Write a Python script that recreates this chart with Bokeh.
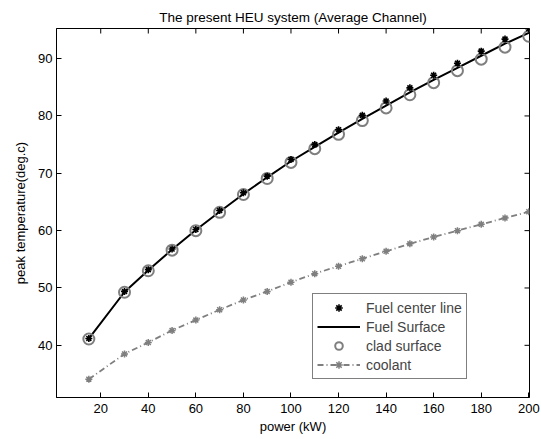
import math
from bokeh.plotting import figure
from bokeh.models import Range1d, FixedTicker, Legend, LegendItem, ColumnDataSource
from bokeh.embed import file_html
from bokeh.resources import INLINE

power = [15, 30, 40, 50, 60, 70, 80, 90, 100, 110, 120, 130, 140, 150, 160, 170, 180, 190, 200]
fuel_center = [41.2, 49.4, 53.2, 56.8, 60.2, 63.5, 66.6, 69.5, 72.4, 75.0, 77.6, 80.1, 82.6, 84.9, 87.1, 89.2, 91.3, 93.4, 95.2]
fuel_surface = [41.15, 49.3, 53.1, 56.7, 60.1, 63.3, 66.4, 69.3, 72.1, 74.6, 77.1, 79.5, 81.8, 84.1, 86.3, 88.4, 90.5, 92.6, 94.5]
clad_surface = [41.1, 49.25, 53.0, 56.6, 60.0, 63.2, 66.3, 69.1, 71.9, 74.3, 76.8, 79.2, 81.4, 83.7, 85.8, 87.9, 89.9, 92.0, 93.9]
coolant = [34.1, 38.5, 40.5, 42.6, 44.4, 46.2, 47.9, 49.4, 51.0, 52.5, 53.8, 55.1, 56.4, 57.7, 58.9, 60.0, 61.1, 62.2, 63.3]

x_ticks = [20, 40, 60, 80, 100, 120, 140, 160, 180, 200]
y_ticks = [40, 50, 60, 70, 80, 90]
x_lim = (1.4, 200.3)
y_lim = (30.9, 95.25)

FONT = "Liberation Sans"
FS = "13px"

src = ColumnDataSource(dict(power=power, fc=fuel_center, fs=fuel_surface, cs=clad_surface, co=coolant))

p = figure(width=541, height=439, output_backend="svg", toolbar_location=None,
           x_range=Range1d(*x_lim), y_range=Range1d(*y_lim),
           min_border_left=56, min_border_right=12, min_border_top=28, min_border_bottom=42,
           title="The present HEU system (Average Channel)")
p.title.text_font = FONT
p.title.text_font_size = "13.5px"
p.title.text_font_style = "normal"
p.title.text_color = "black"
p.title.align = "center"
p.title.standoff = 8
p.title.text_line_height = 0.8
p.background_fill_color = "white"
p.border_fill_color = "white"
p.outline_line_color = "black"
p.outline_line_width = 1
p.xgrid.visible = False
p.ygrid.visible = False

for ax in (p.xaxis[0], p.yaxis[0]):
    ax.major_tick_in = 5
    ax.major_tick_out = 0
    ax.minor_tick_line_color = None
    ax.axis_line_color = "black"
    ax.major_tick_line_color = "black"
    ax.major_label_text_font = FONT
    ax.major_label_text_font_size = FS
    ax.major_label_text_color = "black"
    ax.axis_label_text_font = FONT
    ax.axis_label_text_font_size = FS
    ax.axis_label_text_font_style = "normal"
    ax.axis_label_text_color = "black"

p.xaxis[0].ticker = FixedTicker(ticks=x_ticks)
p.yaxis[0].ticker = FixedTicker(ticks=y_ticks)
p.xaxis[0].axis_label = "power (kW)"
p.yaxis[0].axis_label = "peak temperature(deg.c)"
p.xaxis[0].major_label_standoff = 6
p.xaxis[0].axis_label_standoff = 3
p.yaxis[0].major_label_standoff = 4
p.yaxis[0].axis_label_standoff = 7

# inward ticks on the top and right edges of the box
p.ray(x=x_ticks, y=[y_lim[1]] * len(x_ticks), length=5, length_units="screen",
      angle=-math.pi / 2, line_color="black", line_width=1)
p.ray(x=[x_lim[1]] * len(y_ticks), y=y_ticks, length=5, length_units="screen",
      angle=math.pi, line_color="black", line_width=1)

gray = "#7f7f7f"

r_fs = p.line("power", "fs", source=src, line_color="black", line_width=2)
r_co_line = p.line("power", "co", source=src, line_color=gray, line_width=1.8, line_dash="6 3 1 3")
r_co_mk = p.scatter("power", "co", source=src, marker="asterisk", size=7, line_color=gray, line_width=1.5)
r_cs = p.scatter("power", "cs", source=src, marker="circle", size=11, fill_color=None,
                 line_color=gray, line_width=2)
r_fc = p.scatter("power", "fc", source=src, marker="asterisk", size=7, line_color="black", line_width=1.6)

legend = Legend(items=[
    LegendItem(label="Fuel center line", renderers=[r_fc]),
    LegendItem(label="Fuel Surface", renderers=[r_fs]),
    LegendItem(label="clad surface", renderers=[r_cs]),
    LegendItem(label="coolant", renderers=[r_co_line, r_co_mk]),
], location=(256, 18))
legend.margin = 0
legend.padding = 4
legend.spacing = 0
legend.label_height = 19
legend.glyph_height = 19
legend.glyph_width = 43
legend.label_standoff = 6
legend.label_text_font = FONT
legend.label_text_font_size = "14px"
legend.border_line_color = "black"
legend.border_line_width = 1
legend.background_fill_color = "white"
legend.background_fill_alpha = 1
p.add_layout(legend, "center")

open("out.html", "w").write(file_html(p, INLINE))
